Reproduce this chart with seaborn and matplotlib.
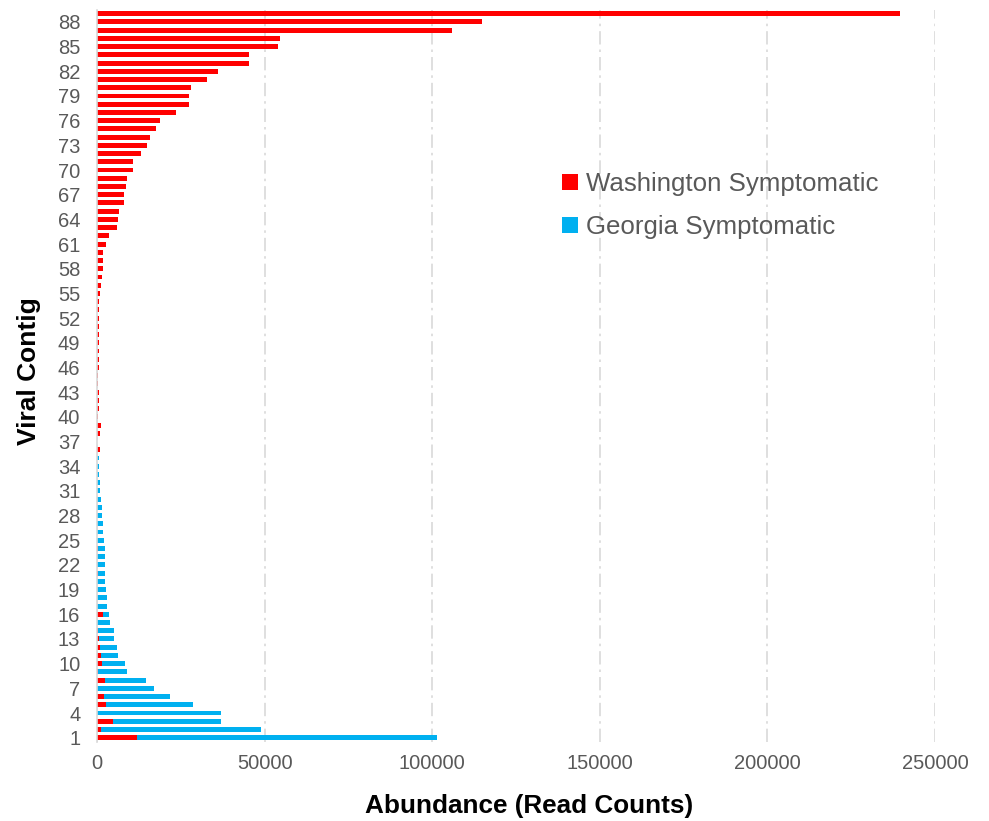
import matplotlib
matplotlib.use("Agg")
import matplotlib.pyplot as plt
import pandas as pd
import seaborn as sns
from matplotlib.patches import Patch

# ---------------- data ----------------
contigs = list(range(1, 90))

washington = [
    11840, 1090, 4870, 0, 2590, 2190, 100, 2390, 400, 1490,
    1190, 800, 600, 200, 0, 1690, 0, 0, 0, 100,
    300, 0, 0, 200, 100, 0, 0, 0, 0, 0,
    0, 0, 0, 0, 0, 1000, 0, 800, 1290, 400,
    500, 700, 500, 400, 400, 500, 500, 500, 500, 500,
    500, 500, 600, 700, 990, 1090, 1590, 1690, 1790, 1890,
    2680, 3680, 5970, 6260, 6560, 8050, 8150, 8650, 8850, 10640,
    10740, 13030, 14820, 15900, 17600, 18800, 23470, 27340, 27440, 28040,
    32700, 36000, 45250, 45340, 54000, 54700, 105900, 114800, 239500,
]

georgia = [
    101330, 48820, 36990, 36890, 28740, 21780, 16900, 14520, 8850, 8350,
    6360, 6070, 5170, 4970, 3780, 3580, 2930, 2880, 2790, 2490,
    2390, 2390, 2290, 2290, 1990, 1890, 1790, 1590, 1390, 1290,
    1000, 1000, 700, 500, 500, 300, 100, 0, 0, 0,
    0, 0, 0, 0, 0, 0, 0, 0, 0, 0,
    0, 0, 0, 0, 0, 0, 0, 0, 0, 0,
    0, 0, 0, 0, 0, 0, 0, 0, 0, 0,
    200, 200, 200, 0, 200, 0, 0, 200, 200, 0,
    200, 0, 200, 0, 200, 200, 0, 200, 200,
]

series_names = ["Washington Symptomatic", "Georgia Symptomatic"]
series_colors = ["#FF0000", "#00B0F0"]
y_tick_contigs = list(range(1, 89, 3))
x_tick_values = [0, 50000, 100000, 150000, 200000, 250000]

# ---------------- style ----------------
sns.set_theme(style="white")
plt.rcParams["font.family"] = ["Liberation Sans", "DejaVu Sans"]

df = pd.DataFrame({
    "Contig": [str(c) for c in contigs] * 2,
    "Reads": washington + georgia,
    "Series": [series_names[0]] * len(contigs) + [series_names[1]] * len(contigs),
})
order = [str(c) for c in contigs[::-1]]
palette = dict(zip(series_names, series_colors))

W, H = 989, 821
fig = plt.figure(figsize=(W / 100, H / 100), dpi=100)
ax_left, ax_right, ax_top, ax_bottom = 97, 935, 9.6, 741.8
ax = fig.add_axes([ax_left / W, 1 - ax_bottom / H,
                   (ax_right - ax_left) / W, (ax_bottom - ax_top) / H])

sns.barplot(data=df, x="Reads", y="Contig", hue="Series", order=order,
            hue_order=[series_names[1], series_names[0]], palette=palette,
            dodge=False, width=0.6, orient="h", errorbar=None,
            saturation=1, linewidth=0, legend=False, ax=ax)

ax.set_xlim(x_tick_values[0], x_tick_values[-1])
ax.set_xticks(x_tick_values)
ax.set_xticklabels([str(v) for v in x_tick_values])
ax.set_yticks([order.index(str(c)) for c in y_tick_contigs])
ax.set_yticklabels([str(c) for c in y_tick_contigs])

ax.tick_params(axis="both", length=0, labelsize=14.5, labelcolor="#595959")
ax.tick_params(axis="y", pad=12)
ax.tick_params(axis="x", pad=9)

for s in ["top", "right", "bottom"]:
    ax.spines[s].set_visible(False)
ax.spines["left"].set_color("#D9D9D9")
ax.spines["left"].set_linewidth(1.2)

ax.set_axisbelow(True)
ax.xaxis.grid(True, color="#D9D9D9", linestyle=(0, (8, 3, 1.5, 3)), linewidth=1.2)
ax.yaxis.grid(False)

ax.set_xlabel("Abundance (Read Counts)", fontsize=18.8, fontweight="bold",
              color="black")
ax.set_ylabel("Viral Contig", fontsize=19, fontweight="bold", color="black")
ax.xaxis.set_label_coords((529.5 - ax_left) / (ax_right - ax_left),
                          -(818 - ax_bottom) / (ax_bottom - ax_top))
ax.yaxis.set_label_coords(-(ax_left - 17) / (ax_right - ax_left),
                          (ax_bottom - 371.5) / (ax_bottom - ax_top))
ax.xaxis.label.set_va("bottom")
ax.yaxis.label.set_va("top")

handles = [Patch(facecolor=c, edgecolor="none") for c in series_colors]
fig.legend(handles, series_names, loc="upper left",
           bbox_to_anchor=(562 / W, 1 - 172 / H), frameon=False,
           fontsize=18.6, labelcolor="#595959", handlelength=0.62,
           handleheight=0.62, handletextpad=0.3, labelspacing=0.74,
           borderpad=0, borderaxespad=0)

fig.savefig("out.png", dpi=100)
